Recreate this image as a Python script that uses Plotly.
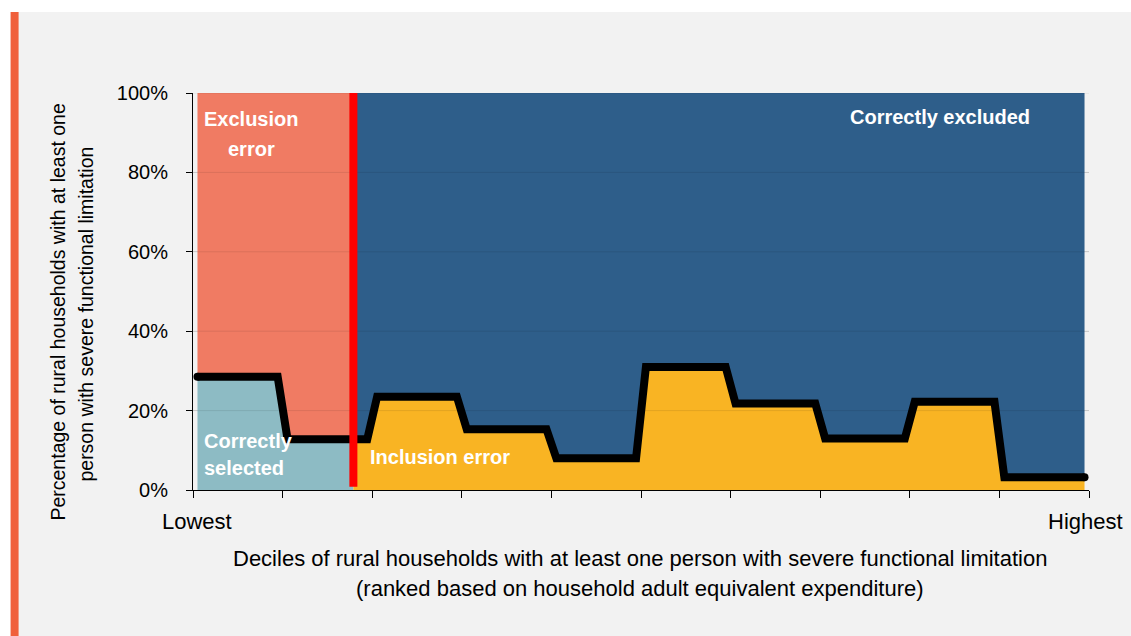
import numpy as np
import plotly.graph_objects as go

# Share of households in each expenditure decile (lowest -> highest), in %
deciles = list(range(1, 11))
share_pct = [28.5, 12.8, 23.5, 15.3, 8.0, 31.0, 21.8, 13.0, 22.2, 3.2]
cutoff_decile = 1.79          # targeting threshold, in decile units
y_ticks = [0, 20, 40, 60, 80, 100]
y_tick_text = [f"{v}%" for v in y_ticks]

FONT = "Liberation Sans"
C_EXCL = "#F07B63"
C_SEL = "#8DBBC4"
C_INCL = "#F9B423"
C_CEXC = "#2E5E8A"

# layout geometry (pixels)
W, H = 1131, 636
L, R, T, B = 192.5, 42, 93, 146
pw, ph = W - L - R, H - T - B


def px_x(px):
    return (px - L) / pw


def px_y(py):
    return 1 - (py - T) / ph


# stepped profile: flat across each decile with short slopes at the boundaries
edge = 0.055
x0, x1 = 0.05, 9.95
xs, ys = [], []
n = len(share_pct)
for i, v in enumerate(share_pct):
    a = x0 if i == 0 else i + edge
    b = x1 if i == n - 1 else i + 1 - edge
    xs += [a, b]
    ys += [v, v]
xs = np.array(xs)
ys = np.array(ys)


def profile(a, b):
    px = [a] + [x for x in xs if a < x < b] + [b]
    return list(px), list(np.interp(px, xs, ys))


lx, ly = profile(x0, cutoff_decile)
rx, ry = profile(cutoff_decile, x1)

fig = go.Figure()


def area(x, y, color):
    fig.add_trace(go.Scatter(x=x, y=y, mode="lines", fill="toself",
                             fillcolor=color, line=dict(width=0),
                             hoverinfo="skip", showlegend=False))


area([x0] + lx + [cutoff_decile], [0] + ly + [0], C_SEL)
area([x0] + lx + [cutoff_decile], [100] + ly + [100], C_EXCL)
area([cutoff_decile] + rx + [x1], [0] + ry + [0], C_INCL)
area([cutoff_decile] + rx + [x1], [100] + ry + [100], C_CEXC)

# faint gridlines drawn over the coloured areas
gx, gy = [], []
for v in y_ticks[1:]:
    gx += [0, 10, None]
    gy += [v, v, None]
fig.add_trace(go.Scatter(x=gx, y=gy, mode="lines",
                         line=dict(color="rgba(0,0,0,0.09)", width=1),
                         hoverinfo="skip", showlegend=False))

# household share profile, with rounded ends
fig.add_trace(go.Scatter(x=list(xs), y=list(ys), mode="lines",
                         line=dict(color="black", width=8),
                         hoverinfo="skip", showlegend=False))
fig.add_trace(go.Scatter(x=[xs[0], xs[-1]], y=[ys[0], ys[-1]], mode="markers",
                         marker=dict(color="black", size=8, line=dict(width=0)),
                         hoverinfo="skip", showlegend=False, cliponaxis=False))

# targeting cutoff
fig.add_trace(go.Scatter(x=[cutoff_decile, cutoff_decile], y=[0.8, 100],
                         mode="lines", line=dict(color="#FF0000", width=8),
                         hoverinfo="skip", showlegend=False))

annotations = []


def label(text, x, y, xanchor="center", size=20, color="white", bold=True,
          xref="x", yref="y", angle=0):
    annotations.append(dict(
        text=f"<b>{text}</b>" if bold else text, x=x, y=y, xref=xref,
        yref=yref, xanchor=xanchor, yanchor="middle", showarrow=False,
        textangle=angle, font=dict(family=FONT, size=size, color=color)))


def dx(px):
    return (px - L) / (pw / 10)


def dy(py):
    return (490 - py) / (ph / 100)


label("Exclusion", dx(251), dy(119))
label("error", dx(251), dy(149))
label("Correctly", dx(201), dy(441), xanchor="left")
label("selected", dx(201), dy(468), xanchor="left")
label("Inclusion error", dx(368), dy(457), xanchor="left")
label("Correctly excluded", dx(940), dy(117))

# axis end labels and titles
label("Lowest", px_x(197), px_y(521), size=22, color="black", bold=False,
      xref="paper", yref="paper")
label("Highest", px_x(1085), px_y(521), size=22, color="black", bold=False,
      xref="paper", yref="paper")
label("Deciles of rural households with at least one person with severe functional limitation",
      px_x(640), px_y(558), size=22, color="black", bold=False,
      xref="paper", yref="paper")
label("(ranked based on household adult equivalent expenditure)",
      px_x(640), px_y(588), size=22, color="black", bold=False,
      xref="paper", yref="paper")
label("Percentage of rural households with at least one",
      px_x(57), px_y(312), size=19.5, color="black", bold=False,
      xref="paper", yref="paper", angle=-90)
label("person with severe functional limitation",
      px_x(85), px_y(314), size=19.5, color="black", bold=False,
      xref="paper", yref="paper", angle=-90)

# panel background and accent stripe
shapes = [
    dict(type="rect", xref="paper", yref="paper", layer="below",
         x0=px_x(10), x1=px_x(W + 5), y0=px_y(12), y1=px_y(H + 5),
         fillcolor="#F2F2F2", line=dict(width=0)),
    dict(type="rect", xref="paper", yref="paper", layer="below",
         x0=px_x(10), x1=px_x(18), y0=px_y(12), y1=px_y(H + 5),
         fillcolor="#F0603C", line=dict(width=0)),
]

fig.update_layout(
    width=W, height=H,
    margin=dict(l=L, r=R, t=T, b=B, pad=0),
    paper_bgcolor="white", plot_bgcolor="rgba(0,0,0,0)",
    shapes=shapes, annotations=annotations,
    font=dict(family=FONT, size=20, color="black"),
    xaxis=dict(range=[0, 10], tickvals=list(range(0, 11)),
               showticklabels=False, ticks="outside", ticklen=7,
               tickcolor="black", showline=True, linecolor="black",
               linewidth=1, showgrid=False, zeroline=False, fixedrange=True),
    yaxis=dict(range=[0, 100], tickvals=y_ticks, ticktext=y_tick_text,
               ticks="outside", ticklen=6, tickcolor="black",
               ticklabelstandoff=14,
               showline=True, linecolor="black", linewidth=1,
               showgrid=True, gridcolor="#D9D9D9", gridwidth=1,
               zeroline=False, fixedrange=True,
               tickfont=dict(family=FONT, size=20, color="black")),
)

fig.write_html("out.html")
